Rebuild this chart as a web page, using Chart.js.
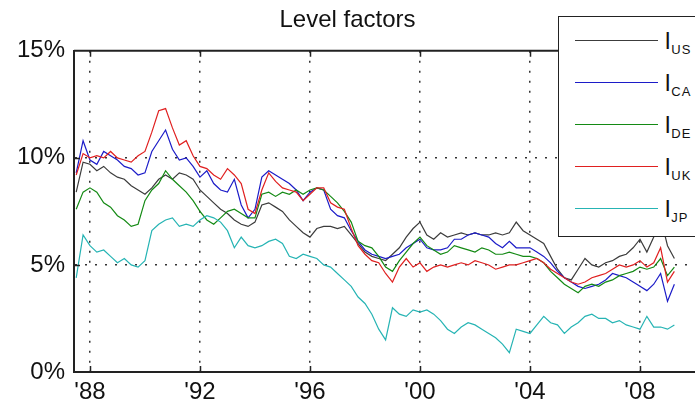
<!DOCTYPE html>
<html>
<head>
<meta charset="utf-8">
<title>Level factors</title>
<script src="https://cdn.jsdelivr.net/npm/chart.js@4.4.1/dist/chart.umd.min.js"></script>
<style>
    body { margin: 0; background: #fff; }
    #wrap { position: relative; width: 695px; height: 408px; overflow: hidden; }
    #legend {
        position: absolute; left: 558px; top: 16px; width: 150px; height: 219px;
        border: 1.5px solid #222; background: #fff;
        font-family: "Liberation Sans", Arial, sans-serif; color: #111;
    }
    .legend-line { position: absolute; left: 16px; width: 83px; height: 0; border-top: 1.4px solid; }
    .legend-label { position: absolute; left: 106px; font-size: 24px; line-height: 1; white-space: nowrap; }
    .legend-label span { position: relative; top: 5px; font-size: 13px; letter-spacing: 1px; margin-left: 1px; }
</style>
</head>
<body>
<div id="wrap">
    <canvas id="levelChart"></canvas>
    <div id="legend"></div>
</div>
<script>
// --- DATA (quarterly, % level) ---
const startYear = 1987.5;
const tickYears = [1988, 1992, 1996, 2000, 2004, 2008];
const tickLabels = ["'88", "'92", "'96", "'00", "'04", "'08"];
const yTicks = [0, 5, 10, 15];

const seriesNames = ['US', 'CA', 'DE', 'UK', 'JP'];
const seriesColors = ['#3c3c3c', '#1c1cc8', '#148a14', '#e02020', '#26b4b4'];

const usLevel = [
    8.4, 9.8,
    9.7, 9.4, 9.6, 9.3,   9.1, 9.0, 8.7, 8.5,   8.3, 8.6, 9.0, 9.2,   9.0, 9.3, 9.2, 9.0,
    8.5, 8.2, 7.9, 7.6,   7.4, 7.1, 6.9, 6.8,   7.0, 7.8, 7.9, 7.7,   7.5, 7.1, 6.8, 6.5,
    6.3, 6.7, 6.8, 6.8,   6.7, 6.8, 6.4, 6.0,   5.6, 5.4, 5.3, 5.2,   5.5, 5.8, 6.3, 6.7,
    7.0, 6.4, 6.2, 6.5,   6.3, 6.4, 6.5, 6.4,   6.5, 6.4, 6.4, 6.5,   6.4, 6.5, 7.0, 6.6,
    6.4, 6.2, 6.0, 5.4,   4.8, 4.4, 4.3, 4.8,   5.3, 5.0, 4.9, 5.1,   5.2, 5.4, 5.5, 5.8,
    6.2, 5.6, 6.3, 7.2,
    5.9, 5.3
];
const caLevel = [
    9.3, 10.8,
    9.9, 9.7, 10.3, 10.1,   9.9, 9.6, 9.5, 9.2,   9.3, 10.3, 10.8, 11.3,   10.4, 9.9, 10.0, 9.6,
    9.1, 9.4, 8.8, 8.5,   8.4, 9.0, 7.8, 7.2,   7.6, 9.1, 9.4, 9.2,   9.0, 8.8, 8.5, 8.0,
    8.4, 8.6, 8.5, 7.6,   7.3, 7.2, 6.6, 6.1,   5.7, 5.5, 5.4, 5.3,   5.4, 5.5, 5.8, 6.0,
    6.2, 5.8, 5.7, 5.7,   5.8, 6.2, 6.2, 6.4,   6.5, 6.4, 6.3, 6.0,   5.8, 6.1, 5.8, 5.8,
    5.8, 5.6, 5.4, 5.1,   4.7, 4.4, 4.2, 4.0,   3.9, 4.0, 4.1, 4.3,   4.6, 4.5, 4.4, 4.2,
    4.0, 3.8, 4.1, 4.6,
    3.3, 4.1
];
const deLevel = [
    7.6, 8.4,
    8.6, 8.4, 7.9, 7.7,   7.3, 7.1, 6.8, 6.9,   8.0, 8.5, 8.8, 9.4,   9.0, 8.7, 8.4, 8.0,
    7.5, 7.1, 6.9, 7.2,   7.5, 7.6, 7.4, 7.2,   7.2, 8.3, 8.4, 8.2,   8.4, 8.3, 8.5, 8.3,
    8.5, 8.6, 8.5, 8.2,   7.9, 7.5, 7.0, 6.1,   5.9, 5.8, 5.4, 4.9,   4.7, 5.2, 5.6, 6.0,
    6.3, 5.9, 5.7, 5.5,   5.6, 5.9, 5.8, 5.7,   5.6, 5.8, 5.7, 5.5,   5.5, 5.6, 5.5, 5.4,
    5.4, 5.3, 5.1, 4.7,   4.4, 4.1, 3.9, 3.7,   4.0, 4.1, 4.0, 4.2,   4.3, 4.5, 4.6, 4.7,
    4.9, 4.8, 4.9, 5.3,
    4.5, 4.9
];
const ukLevel = [
    9.2, 10.2,
    10.0, 10.1, 10.0, 10.3,   10.0, 9.9, 9.8, 10.1,   10.3, 11.2, 12.2, 12.3,   11.4, 10.6, 10.8, 10.1,
    9.6, 9.5, 9.2, 9.0,   9.5, 9.2, 8.8, 7.6,   7.4, 8.5, 9.3, 8.9,   8.6, 8.5, 8.4, 8.0,
    8.3, 8.6, 8.6, 7.9,   7.7, 7.6, 6.7, 5.9,   5.5, 5.2, 5.1, 4.6,   4.2, 4.9, 5.3, 4.9,
    5.1, 4.7, 4.9, 5.0,   4.9, 5.0, 5.1, 5.0,   5.2, 5.1, 5.0, 4.8,   4.9, 5.0, 5.0, 5.1,
    5.2, 5.3, 5.1, 4.8,   4.6, 4.4, 4.2, 4.1,   4.2, 4.4, 4.5, 4.6,   4.8, 5.0, 4.9, 5.0,
    5.2, 4.9, 5.1, 5.8,
    4.2, 4.7
];
const jpLevel = [
    4.4, 6.4,
    5.9, 5.6, 5.7, 5.4,   5.1, 5.3, 5.0, 4.9,   5.2, 6.6, 6.9, 7.1,   7.2, 6.8, 6.9, 6.8,
    7.1, 7.3, 7.2, 7.0,   6.6, 5.8, 6.3, 5.9,   5.8, 5.9, 6.1, 6.2,   6.0, 5.4, 5.3, 5.5,
    5.4, 5.3, 5.0, 4.9,   4.6, 4.3, 4.0, 3.5,   3.2, 2.7, 2.0, 1.5,   3.0, 2.7, 2.6, 2.9,
    2.8, 2.9, 2.7, 2.4,   2.0, 1.8, 2.1, 2.3,   2.2, 2.0, 1.8, 1.6,   1.3, 0.9, 2.0, 1.9,
    1.8, 2.2, 2.6, 2.3,   2.2, 1.8, 2.1, 2.3,   2.6, 2.7, 2.5, 2.5,   2.3, 2.4, 2.2, 2.1,
    2.0, 2.6, 2.1, 2.1,
    2.0, 2.2
];
const seriesData = [usLevel, caLevel, deLevel, ukLevel, jpLevel];

// quarter dates for the x axis
const quarters = usLevel.map((_, i) => startYear + i * 0.25);

const FONT = '"Liberation Sans", Arial, sans-serif';
const INK = '#111';

// --- FRAME: top border + inward tick marks (matlab style) ---
const framePlugin = {
    id: 'frame',
    afterDatasetsDraw(chart) {
        const { ctx, chartArea: a, scales: { x, y } } = chart;
        ctx.save();
        ctx.strokeStyle = '#222';
        ctx.lineWidth = 2;
        ctx.beginPath();
        ctx.moveTo(a.left, a.top);
        ctx.lineTo(a.right, a.top);
        ctx.stroke();

        ctx.lineWidth = 1.5;
        ctx.beginPath();
        tickYears.forEach(v => {
            const px = Math.round(x.getPixelForValue(v)) + 0.5;
            ctx.moveTo(px, a.bottom); ctx.lineTo(px, a.bottom - 6);
            ctx.moveTo(px, a.top); ctx.lineTo(px, a.top + 6);
        });
        [5, 10].forEach(v => {
            const py = Math.round(y.getPixelForValue(v)) + 0.5;
            ctx.moveTo(a.left, py); ctx.lineTo(a.left + 6, py);
        });
        ctx.stroke();
        ctx.restore();
    }
};

// --- CHART ---
const ctxLine = document.getElementById('levelChart').getContext('2d');
new Chart(ctxLine, {
    type: 'line',
    data: {
        datasets: seriesNames.map((name, i) => ({
            label: 'l' + name,
            data: seriesData[i].map((v, k) => ({ x: quarters[k], y: v })),
            borderColor: seriesColors[i],
            backgroundColor: seriesColors[i],
            borderWidth: 1.2,
            pointRadius: 0,
            tension: 0,
            order: seriesNames.length - i   // later series on top
        }))
    },
    options: {
        animation: false,
        responsive: true,
        maintainAspectRatio: false,
        layout: { padding: 0 },
        plugins: {
            legend: { display: false },
            tooltip: { enabled: false },
            title: {
                display: true,
                text: 'Level factors',
                color: INK,
                font: { family: FONT, size: 24, weight: 'normal' },
                padding: { top: 6, bottom: 16 }
            }
        },
        scales: {
            x: {
                type: 'linear',
                min: 1987.42,
                max: 2010,
                afterBuildTicks: s => { s.ticks = tickYears.map(v => ({ value: v })); },
                afterFit: s => { s.height = 36; },
                ticks: {
                    color: INK,
                    font: { family: FONT, size: 24 },
                    padding: 6,
                    maxRotation: 0,
                    autoSkip: false,
                    callback: (v, i) => tickLabels[i]
                },
                grid: { color: '#333', lineWidth: 1.5, drawTicks: false },
                border: { display: true, color: '#222', width: 2, dash: [2, 8] }
            },
            y: {
                min: 0,
                max: 15,
                afterBuildTicks: s => { s.ticks = yTicks.map(v => ({ value: v })); },
                afterFit: s => { s.width = 74; },
                ticks: {
                    color: INK,
                    font: { family: FONT, size: 24 },
                    padding: 9,
                    callback: v => v + '%'
                },
                grid: {
                    drawTicks: false,
                    lineWidth: 1.5,
                    color: c => (c.tick && (c.tick.value === 5 || c.tick.value === 10)) ? '#333' : 'rgba(0,0,0,0)'
                },
                border: { display: true, color: '#222', width: 2, dash: [2, 8] }
            }
        }
    },
    plugins: [framePlugin]
});

// --- CUSTOM HTML LEGEND (l with subscript) ---
const legendBox = document.getElementById('legend');
legendBox.innerHTML = seriesNames.map((name, i) => {
    const rowY = 23 + i * 42;
    return `
        <div class="legend-line" style="top:${rowY}px; border-color:${seriesColors[i]};"></div>
        <div class="legend-label" style="top:${rowY - 11}px;">l<span>${name}</span></div>
    `;
}).join('');
</script>
</body>
</html>
